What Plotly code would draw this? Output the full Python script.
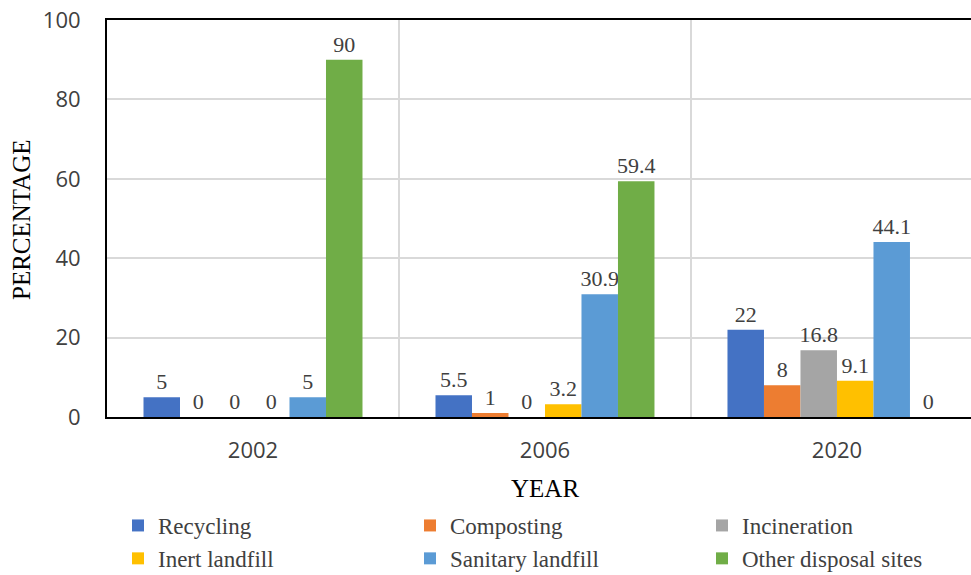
import plotly.graph_objects as go

years = ["2002", "2006", "2020"]
series_names = ["Recycling", "Composting", "Incineration",
                "Inert landfill", "Sanitary landfill", "Other disposal sites"]
recycling = [5, 5.5, 22]
composting = [0, 1, 8]
incineration = [0, 0, 16.8]
inert_landfill = [0, 3.2, 9.1]
sanitary_landfill = [5, 30.9, 44.1]
other_disposal = [90, 59.4, 0]
colors = ["#4472C4", "#ED7D31", "#A5A5A5", "#FFC000", "#5B9BD5", "#70AD47"]

values = [recycling, composting, incineration, inert_landfill,
          sanitary_landfill, other_disposal]

W, H = 971, 575
ML, MR, MT, MB = 107, 0, 20, 158
plot_w = W - ML - MR
plot_h = H - MT - MB

# legend laid out in three columns of two rows
legend_column = ["legend", "legend2", "legend3", "legend", "legend2", "legend3"]
column_left = [118, 410, 702]

fig = go.Figure()
for name, vals, col, lg in zip(series_names, values, colors, legend_column):
    fig.add_trace(go.Bar(
        name=name, x=years, y=vals, marker_color=col, marker_line_width=0,
        text=[f"{v:g}" for v in vals], textposition="outside",
        textfont=dict(family="Liberation Serif", size=22, color="#404040"),
        constraintext="none", cliponaxis=False, legend=lg,
    ))

legend_style = dict(
    orientation="v",
    xref="container", xanchor="left",
    yref="container", y=1 - 504 / H, yanchor="top",
    font=dict(family="Liberation Serif", size=23, color="#404040"),
    itemwidth=30, tracegroupgap=0, bgcolor="rgba(0,0,0,0)",
)

fig.update_layout(
    width=W, height=H,
    margin=dict(l=ML, r=MR, t=MT, b=MB, autoexpand=False),
    plot_bgcolor="white", paper_bgcolor="white",
    barmode="group", bargap=0.25, bargroupgap=0,
    showlegend=True,
    legend=dict(x=column_left[0] / W, **legend_style),
    legend2=dict(x=column_left[1] / W, **legend_style),
    legend3=dict(x=column_left[2] / W, **legend_style),
    xaxis=dict(
        type="category", range=[-0.5, 2.459], tickson="boundaries",
        showgrid=True, gridcolor="#D9D9D9", gridwidth=2,
        showline=True, linecolor="black", linewidth=2, mirror=True,
        ticks="", ticklabelstandoff=13,
        tickfont=dict(family="Open Sans", size=22, color="#404040"),
    ),
    yaxis=dict(
        range=[0, 100], tickvals=[0, 20, 40, 60, 80, 100],
        showgrid=True, gridcolor="#D9D9D9", gridwidth=1.5,
        showline=True, linecolor="black", linewidth=2,
        ticks="", ticklabelstandoff=20, zeroline=False,
        tickfont=dict(family="Open Sans", size=22, color="#404040"),
    ),
)


def page_to_paper(px, py):
    return (px - ML) / plot_w, (H - MB - py) / plot_h


# axis titles, positioned in page pixels
ax, ay = page_to_paper(545, 489)
fig.add_annotation(text="YEAR", x=ax, y=ay, xref="paper", yref="paper",
                   xanchor="center", yanchor="middle", showarrow=False,
                   font=dict(family="Liberation Serif", size=25, color="black"))
ax, ay = page_to_paper(21, 220)
fig.add_annotation(text="PERCENTAGE", x=ax, y=ay, xref="paper", yref="paper",
                   xanchor="center", yanchor="middle",
                   textangle=-90, showarrow=False,
                   font=dict(family="Liberation Serif", size=25, color="black"))

fig.write_html("out.html")
